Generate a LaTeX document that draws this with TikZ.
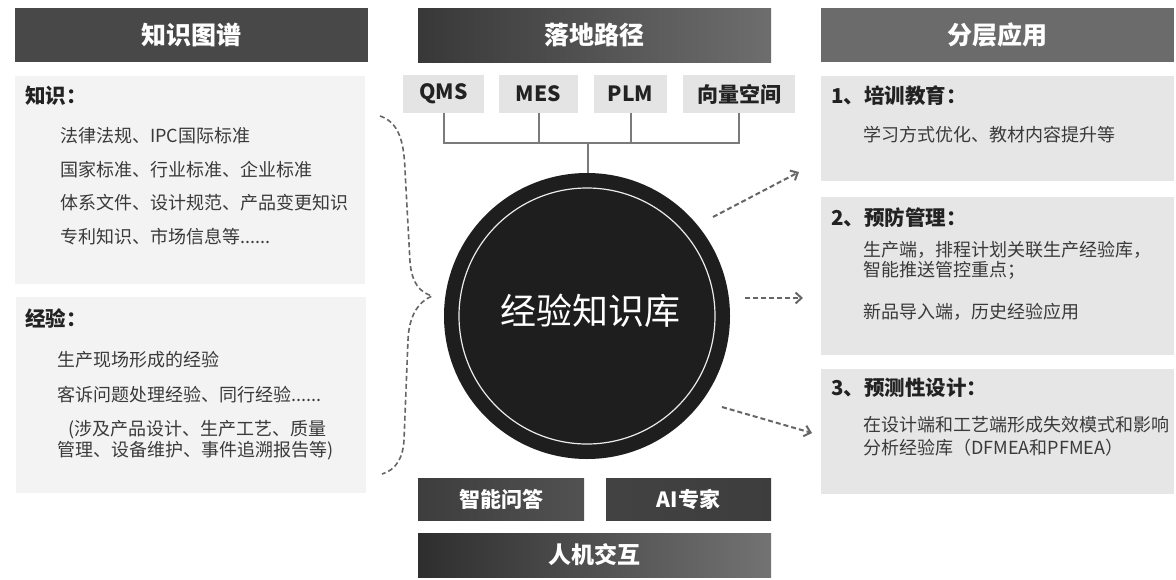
\documentclass[tikz,border=0pt]{standalone}
\usepackage{fontspec}
\setmainfont{Noto Sans CJK SC}
\usetikzlibrary{arrows.meta,calc}
\definecolor{hdrL}{HTML}{484848}
\definecolor{hdrR}{HTML}{6B6B6B}
\definecolor{panelL}{HTML}{F3F3F3}
\definecolor{panelR}{HTML}{E6E6E6}
\definecolor{smbox}{HTML}{E4E4E4}
\definecolor{txtdark}{HTML}{222222}
\definecolor{txtbody}{HTML}{3A3A3A}
\definecolor{connc}{HTML}{7A7A7A}
\definecolor{arrc}{HTML}{666666}
\definecolor{kbfill}{HTML}{1E1E1E}
\begin{document}
\begin{tikzpicture}[x={(1pt,0)},y={(0,-1pt)},
  hdr/.style={inner sep=0, text=white, font=\bfseries\fontsize{25}{30}\selectfont},
  panel/.style={inner sep=0},
  sm/.style={inner sep=0, fill=smbox, text=txtdark, font=\bfseries\fontsize{21}{25}\selectfont},
  lbl/.style={anchor=west, inner sep=0, text=txtdark, text height=0.8em, text depth=0.2em, font=\bfseries\fontsize{20.5}{24}\selectfont},
  body/.style={anchor=west, inner sep=0, text=txtbody, text height=0.8em, text depth=0.2em, font=\fontsize{18}{22}\selectfont},
  conn/.style={draw=connc, line width=2pt},
  arr/.style={draw=arrc, line width=2pt, dash pattern=on 5pt off 3pt, -{Straight Barb[length=6pt,width=11pt]}},
  bracestyle/.style={draw=arrc, line width=1.6pt, dash pattern=on 5pt off 3pt},
  bot/.style={inner sep=0, text=white, font=\bfseries\fontsize{21}{25}\selectfont}]
\useasboundingbox (0,0) rectangle (1176,579);
\fill[white] (0,0) rectangle (1176,579);

% headers
\node[hdr, fill=hdrL, minimum width=353pt, minimum height=54pt] (h1) at (191.5,35) {知识图谱};
\node[hdr, left color=black!78, right color=black!57, minimum width=353pt, minimum height=54pt] (h2) at (594.5,35) {落地路径};
\node[hdr, fill=hdrR, minimum width=353pt, minimum height=54pt] (h3) at (997.5,35) {分层应用};

% left panels
\node[panel, fill=panelL, minimum width=350pt, minimum height=208pt] (pk) at (190,180) {};
\node[panel, fill=panelL, minimum width=350pt, minimum height=196pt] (pe) at (191,395) {};
\node[lbl] (pkt) at (25,100) {知识：};
\node[body] (pk1) at (60,139) {法律法规、IPC国际标准};
\node[body] (pk2) at (60,173) {国家标准、行业标准、企业标准};
\node[body] (pk3) at (60,206) {体系文件、设计规范、产品变更知识};
\node[body] (pk4) at (60,240) {专利知识、市场信息等......};
\node[lbl] (pet) at (25,323) {经验：};
\node[body] (pe1) at (57,363) {生产现场形成的经验};
\node[body] (pe2) at (57,398) {客诉问题处理经验、同行经验......};
\node[body] (pe3) at (68,432) {(涉及产品设计、生产工艺、质量};
\node[body] (pe4) at (57,453) {管理、设备维护、事件追溯报告等)};

% top small boxes
\node[sm, minimum width=81pt, minimum height=38pt] (qms) at (443.5,94) {QMS};
\node[sm, minimum width=79pt, minimum height=38pt] (mes) at (538.5,94) {MES};
\node[sm, minimum width=73pt, minimum height=38pt] (plm) at (630.5,94) {PLM};
\node[sm, minimum width=112pt, minimum height=38pt] (vec) at (739,94) {向量空间};

% central circle
\node[circle, fill=kbfill, inner sep=0, minimum size=286pt] (kb) at (587,316) {};
\draw[white!85!gray, line width=1.2pt] (kb.center) circle[radius=128pt];
\node[inner sep=0, text=white, font=\fontsize{36}{40}\selectfont] (kbt) at (590,311) {经验知识库};

% bus connectors
\coordinate (bus) at (588,143);
\draw[conn] (qms.south) -- (qms.south|-bus) -- (vec.south|-bus) -- (vec.south);
\draw[conn] (mes.south) -- (mes.south|-bus);
\draw[conn] (plm.south) -- (plm.south|-bus);
\draw[conn] (bus) -- (bus|-kb.north);

% brace
\coordinate (brT) at (380,116);
\coordinate (brM) at (432,296);
\coordinate (brB) at (382,474);
\draw[bracestyle] (brT) .. controls (398,122) and (404,140) .. (405,170) -- (410,262)
  .. controls (412,284) and (420,292) .. (brM)
  .. controls (418,302) and (409,316) .. (408,340) -- (404,440)
  .. controls (403,458) and (396,470) .. (brB);

% arrows
\coordinate (a1s) at (713,217); \coordinate (a1e) at (799,172);
\coordinate (a2s) at (745,298); \coordinate (a2e) at (803,298);
\coordinate (a3s) at (722,407); \coordinate (a3e) at (812,433);
\draw[arr] (a1s) -- (a1e);
\draw[arr] (a2s) -- (a2e);
\draw[arr] (a3s) -- (a3e);

% right panels
\node[panel, fill=panelR, minimum width=353pt, minimum height=105pt] (r1) at (997.5,128.5) {};
\node[panel, fill=panelR, minimum width=353pt, minimum height=158pt] (r2) at (997.5,276) {};
\node[panel, fill=panelR, minimum width=353pt, minimum height=125pt] (r3) at (997.5,431.5) {};
\node[lbl] (r1t) at (831,100) {1、培训教育：};
\node[body] (r11) at (863,138) {学习方式优化、教材内容提升等};
\node[lbl] (r2t) at (831,222) {2、预防管理：};
\node[body] (r21) at (863,253) {生产端，排程计划关联生产经验库，};
\node[body] (r22) at (863,273) {智能推送管控重点；};
\node[body] (r23) at (863,315) {新品导入端，历史经验应用};
\node[lbl] (r3t) at (831,392) {3、预测性设计：};
\node[body] (r31) at (863,428) {在设计端和工艺端形成失效模式和影响};
\node[body] (r32) at (863,451) {分析经验库（DFMEA和PFMEA）};

% bottom boxes
\node[bot, left color=black!76, right color=black!68, minimum width=166pt, minimum height=42pt] (b1) at (501,499) {智能问答};
\node[bot, left color=black!74, right color=black!76, minimum width=165pt, minimum height=42pt] (b2) at (688.5,499) {AI专家};
\node[bot, left color=black!82, right color=black!55, minimum width=353pt, minimum height=44pt, font=\bfseries\fontsize{23}{27}\selectfont] (b3) at (594.5,555) {人机交互};
\end{tikzpicture}
\end{document}
